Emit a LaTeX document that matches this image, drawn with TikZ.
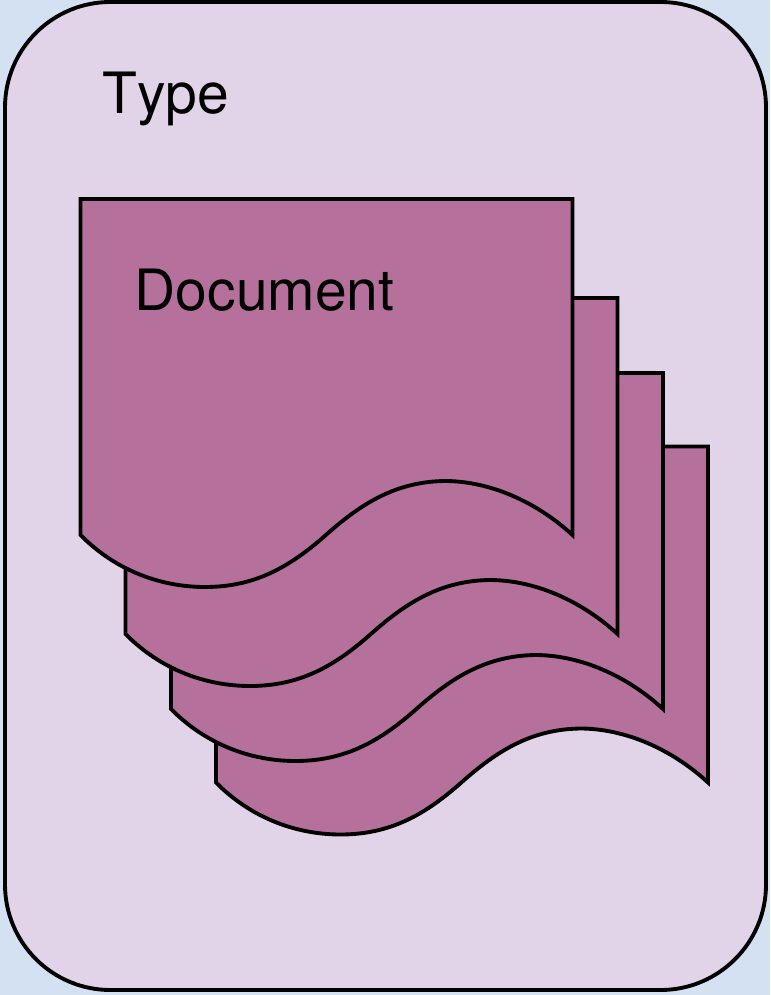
\documentclass[tikz,border=0pt]{standalone}
\usepackage{fontspec}
\setmainfont[Kerning=Off]{TeX Gyre Heros}
\usepackage{tikz}
\definecolor{pageblue}{HTML}{D4E1F3}
\definecolor{typelilac}{HTML}{E2D4E8}
\definecolor{docmauve}{HTML}{B5709C}
\tikzset{
    typebox/.style={draw=black, line width=1.1pt, fill=typelilac, rounded corners=30pt},
    docsheet/.style={draw=black, line width=1.1pt, fill=docmauve, line join=miter},
    label/.style={anchor=base west, inner sep=0pt, font=\fontsize{16.2}{19}\selectfont}
}

\begin{document}
\begin{tikzpicture}[x=0.01cm, y=-0.01cm]
    % Page background
    \fill[pageblue] (0, 0) rectangle (770, 995);
    \useasboundingbox (0, 0) rectangle (770, 995);

    % Type container
    \draw[typebox] (5, 2) rectangle (766, 990);
    \node[label] (type) at (102, 114) {Type};

    % Document stack (back to front)
    \foreach \dx/\dy in {135.5/247.5, 90.5/174, 45/99, 0/0} {
        \draw[docsheet, shift={(\dx, \dy)}] (80.5, 199) -- (572.5, 199) -- (572.5, 535)
            .. controls (540, 505) and (495, 482) .. (447, 481)
            .. controls (397, 481) and (362, 503) .. (327, 534)
            .. controls (290, 567) and (255, 587) .. (205, 587)
            .. controls (160, 587) and (115, 570) .. (80.5, 535) -- cycle;
    }
    \node[label] (document) at (134, 311) {Document};
\end{tikzpicture}
\end{document}
